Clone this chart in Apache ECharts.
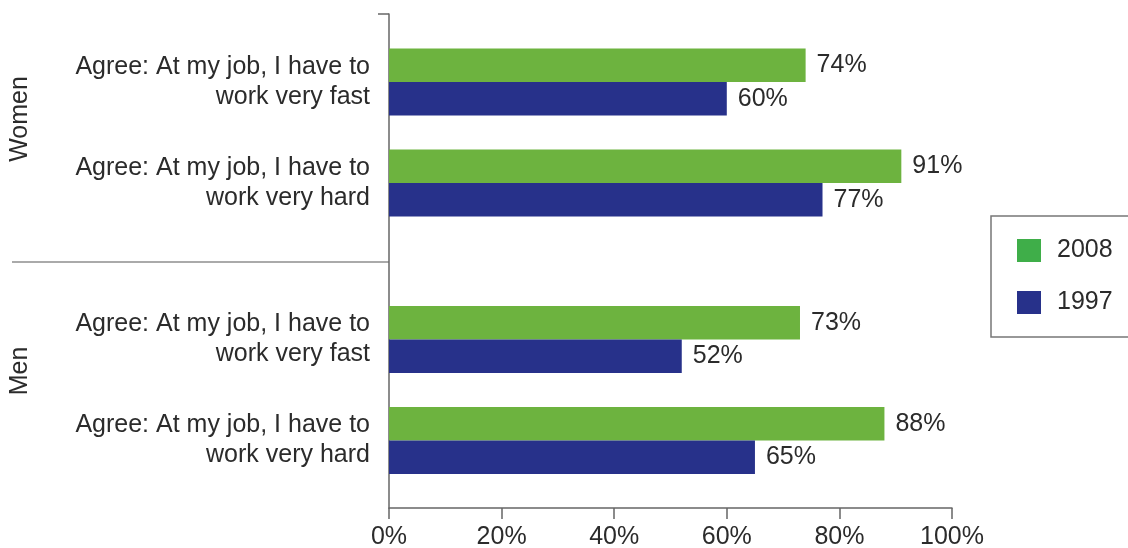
<!DOCTYPE html>
<html>
<head>
<meta charset="utf-8">
<script src="https://cdn.jsdelivr.net/npm/echarts@6/dist/echarts.min.js"></script>
<style>html,body{margin:0;padding:0;background:#fff;}#chart{width:1128px;height:548px;}</style>
</head>
<body>
<div id="chart"></div>
<script>
// ---- data ----
const categories = ['Agree: At my job, I have to\nwork very fast', 'Agree: At my job, I have to\nwork very hard'];
const groupNames = ['Women', 'Men'];
const seriesNames = ['2008', '1997'];
const women2008 = [74, 91];
const women1997 = [60, 77];
const men2008 = [73, 88];
const men1997 = [52, 65];

// ---- layout / style ----
const FONT = "'Liberation Sans', Arial, Helvetica, sans-serif";
const TXT = '#2b2b2b';
const GREEN = '#6db33f';
const GREEN_LEG = '#3fae49';
const BLUE = '#27318a';
const AX = '#666';
const L = 389, W = 563;
const subH = 202;
const subTops = [31.5, 289];
const mainTop = 14, mainH = 494;
const FS = 25;

const chart = echarts.init(document.getElementById('chart'));

const grids = [{left: L, width: W, top: mainTop, height: mainH, outerBoundsMode: 'none', containLabel: false}];
subTops.forEach(t => grids.push({left: L, width: W, top: t, height: subH, outerBoundsMode: 'none', containLabel: false}));

const xAxes = [{
  gridIndex: 0, type: 'value', min: 0, max: 100, interval: 20,
  axisLine: {show: true, lineStyle: {color: AX, width: 1.5}},
  axisTick: {show: true, length: 11, lineStyle: {color: AX, width: 1.5}},
  splitLine: {show: false},
  axisLabel: {formatter: '{value}%', color: TXT, fontSize: FS, fontFamily: FONT, margin: 17}
}];
const yAxes = [{
  gridIndex: 0, type: 'value', min: 0, max: 1,
  axisLine: {show: true, lineStyle: {color: AX, width: 1.5}},
  axisTick: {show: false}, axisLabel: {show: false}, splitLine: {show: false}
}];
[1, 2].forEach(g => {
  xAxes.push({gridIndex: g, type: 'value', min: 0, max: 100, show: false});
  yAxes.push({
    gridIndex: g, type: 'category', data: categories, inverse: true,
    axisLine: {show: false}, axisTick: {show: false},
    axisLabel: {color: TXT, fontSize: FS, fontFamily: FONT, margin: 19, lineHeight: 30, align: 'right'}
  });
});

const groupData = [[women2008, women1997], [men2008, men1997]];
const colors = [GREEN, BLUE];
const series = [];
groupData.forEach((gd, gi) => {
  gd.forEach((vals, si) => {
    series.push({
      type: 'bar', name: seriesNames[si], xAxisIndex: gi + 1, yAxisIndex: gi + 1,
      data: vals, barWidth: 33.5, barGap: '0%',
      itemStyle: {color: colors[si]},
      label: {show: true, position: 'right', distance: 11, formatter: '{c}%', color: TXT, fontSize: FS, fontFamily: FONT}
    });
  });
});

const sepY = 262;
chart.setOption({
  animation: false,
  textStyle: {fontFamily: FONT},
  grid: grids,
  xAxis: xAxes,
  yAxis: yAxes,
  legend: {
    orient: 'vertical', left: 991, top: 216,
    padding: [22, 60, 22, 26],
    borderColor: '#777', borderWidth: 1.5,
    itemWidth: 24, itemHeight: 23, itemGap: 27,
    icon: 'rect',
    data: [{name: '2008', itemStyle: {color: GREEN_LEG}}, {name: '1997', itemStyle: {color: BLUE}}],
    textStyle: {color: TXT, fontSize: FS, fontFamily: FONT, padding: [0, 0, 0, 11]}
  },
  graphic: [
    {type: 'line', shape: {x1: 12, y1: sepY, x2: L, y2: sepY}, style: {stroke: '#aaa', lineWidth: 2}},
    {type: 'line', shape: {x1: L - 11, y1: mainTop, x2: L, y2: mainTop}, style: {stroke: AX, lineWidth: 1.5}},
    {type: 'text', x: 20, y: 119, rotation: Math.PI / 2, style: {text: groupNames[0], fill: TXT, font: FS + 'px ' + FONT, textAlign: 'center', textVerticalAlign: 'middle'}},
    {type: 'text', x: 20, y: 371, rotation: Math.PI / 2, style: {text: groupNames[1], fill: TXT, font: FS + 'px ' + FONT, textAlign: 'center', textVerticalAlign: 'middle'}}
  ],
  series: series
});
</script>
</body>
</html>
